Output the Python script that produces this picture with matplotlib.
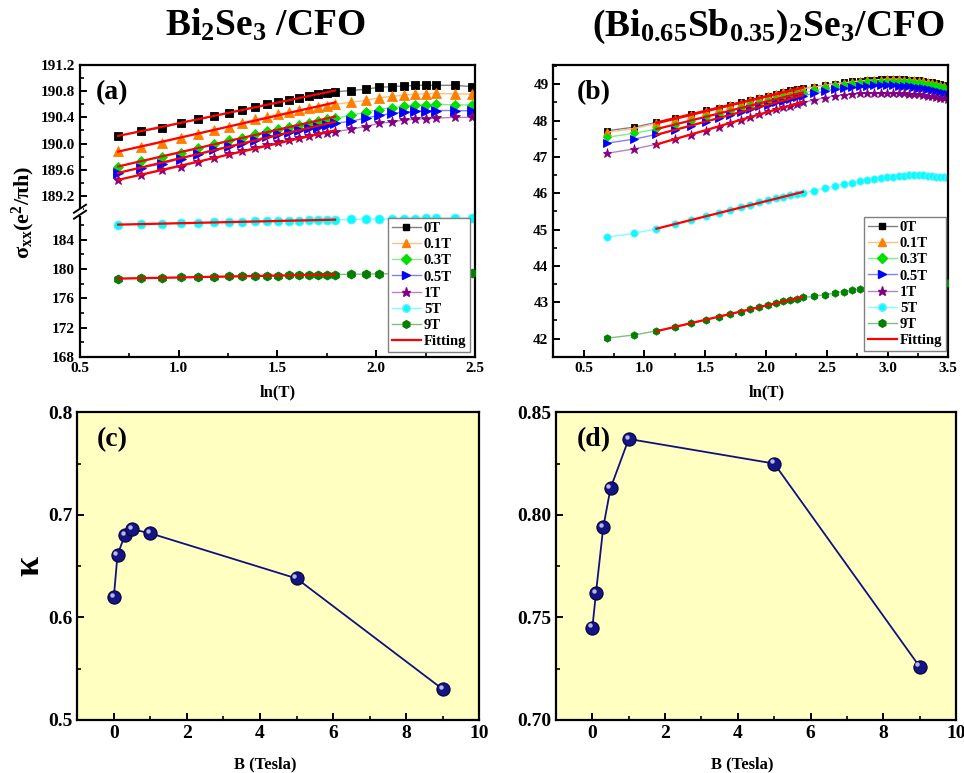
import numpy as np
import matplotlib
matplotlib.use('Agg')
import matplotlib.pyplot as plt
from matplotlib.lines import Line2D
from matplotlib.patches import Rectangle
from matplotlib.ticker import MultipleLocator, FormatStrFormatter
import matplotlib.transforms as mtrans

plt.rcParams.update({
    'font.family': ['Liberation Serif', 'DejaVu Serif'],
    'font.weight': 'bold',
    'mathtext.fontset': 'custom',
    'mathtext.rm': 'Liberation Serif:bold',
    'mathtext.it': 'Liberation Serif:italic:bold',
    'mathtext.bf': 'Liberation Serif:bold',
    'axes.linewidth': 1.6,
    'xtick.direction': 'in',
    'ytick.direction': 'in',
    'xtick.major.width': 1.4,
    'ytick.major.width': 1.4,
    'xtick.minor.width': 1.2,
    'ytick.minor.width': 1.2,
    'xtick.major.size': 5,
    'ytick.major.size': 5,
    'xtick.minor.size': 3,
    'ytick.minor.size': 3,
})

# ---------------- data ----------------
fields = ['0T', '0.1T', '0.3T', '0.5T', '1T', '5T', '9T']

# panel (a): Bi2Se3/CFO, temperatures (K)
T_a = [2.0, 2.25, 2.5, 2.75, 3.0, 3.25, 3.5, 3.75, 4.0, 4.25, 4.5, 4.75, 5.0,
       5.25, 5.5, 5.75, 6.0, 6.5, 7.0, 7.5, 8.0, 8.5, 9.0, 9.5, 10.0, 11.0, 12.0]
sig_a_0T = [190.12, 190.19, 190.24, 190.32, 190.37, 190.42, 190.47, 190.52, 190.56,
            190.60, 190.64, 190.67, 190.70, 190.73, 190.755, 190.775, 190.79, 190.81,
            190.83, 190.86, 190.87, 190.88, 190.89, 190.89, 190.89, 190.89, 190.87]
sig_a_01T = [189.88, 189.95, 190.01, 190.09, 190.15, 190.21, 190.26, 190.32, 190.37,
             190.41, 190.45, 190.48, 190.51, 190.54, 190.56, 190.58, 190.60, 190.63,
             190.66, 190.70, 190.72, 190.74, 190.755, 190.76, 190.765, 190.76, 190.755]
sig_a_03T = [189.65, 189.73, 189.79, 189.86, 189.93, 190.00, 190.05, 190.09, 190.14,
             190.19, 190.22, 190.26, 190.29, 190.32, 190.35, 190.37, 190.39, 190.43,
             190.48, 190.52, 190.55, 190.57, 190.59, 190.59, 190.60, 190.59, 190.59]
sig_a_05T = [189.55, 189.63, 189.69, 189.77, 189.84, 189.91, 189.96, 190.01, 190.06,
             190.11, 190.14, 190.18, 190.21, 190.24, 190.26, 190.28, 190.31, 190.34,
             190.39, 190.43, 190.46, 190.48, 190.495, 190.50, 190.505, 190.505, 190.50]
sig_a_1T = [189.45, 189.52, 189.59, 189.65, 189.72, 189.78, 189.84, 189.89, 189.94,
            189.98, 190.02, 190.05, 190.08, 190.11, 190.14, 190.16, 190.18, 190.22,
            190.26, 190.31, 190.33, 190.36, 190.37, 190.38, 190.39, 190.40, 190.40]
sig_a_5T = [186.04, 186.10, 186.17, 186.23, 186.29, 186.34, 186.39, 186.43, 186.47,
            186.51, 186.54, 186.57, 186.60, 186.63, 186.66, 186.68, 186.70, 186.74,
            186.77, 186.80, 186.83, 186.85, 186.87, 186.89, 186.90, 186.92, 186.94]
sig_a_9T = [178.68, 178.74, 178.79, 178.84, 178.89, 178.93, 178.97, 179.01, 179.04,
            179.07, 179.10, 179.13, 179.15, 179.17, 179.19, 179.21, 179.23, 179.27,
            179.30, 179.33, 179.35, 179.37, 179.39, 179.40, 179.41, 179.43, 179.45]
fit_range_a = (2.0, 6.0)

# panel (b): (Bi0.65Sb0.35)2Se3/CFO
T_b = [2.0, 2.5, 3.0, 3.5, 4.0, 4.5, 5.0, 5.5, 6.0, 6.5, 7.0, 7.5, 8.0, 8.5, 9.0,
       9.5, 10.0, 11, 12, 13, 14, 15, 16, 17, 18, 19, 20, 21, 22, 23, 24, 25, 26,
       27, 28, 29, 30, 31, 32, 33]
sig_b_0T = [47.72, 47.82, 47.95, 48.06, 48.17, 48.28, 48.36, 48.43, 48.50, 48.57,
            48.63, 48.69, 48.74, 48.79, 48.83, 48.86, 48.89, 48.93, 48.98, 49.02,
            49.05, 49.08, 49.10, 49.12, 49.13, 49.14, 49.15, 49.15, 49.15, 49.14,
            49.13, 49.12, 49.11, 49.09, 49.07, 49.05, 49.03, 49.00, 48.97, 48.94]
sig_b_01T = [47.68, 47.78, 47.92, 48.04, 48.15, 48.26, 48.34, 48.42, 48.49, 48.56,
             48.62, 48.68, 48.73, 48.78, 48.82, 48.85, 48.88, 48.92, 48.97, 49.01,
             49.04, 49.07, 49.09, 49.11, 49.12, 49.13, 49.14, 49.14, 49.14, 49.13,
             49.12, 49.11, 49.10, 49.08, 49.06, 49.04, 49.02, 48.99, 48.96, 48.93]
sig_b_03T = [47.54, 47.65, 47.77, 47.89, 48.00, 48.10, 48.19, 48.27, 48.35, 48.42,
             48.48, 48.54, 48.59, 48.64, 48.69, 48.72, 48.76, 48.83, 48.89, 48.94,
             48.98, 49.01, 49.03, 49.05, 49.06, 49.07, 49.07, 49.07, 49.07, 49.06,
             49.05, 49.04, 49.03, 49.01, 48.99, 48.97, 48.95, 48.92, 48.89, 48.86]
sig_b_05T = [47.38, 47.49, 47.62, 47.74, 47.85, 47.97, 48.06, 48.16, 48.24, 48.31,
             48.39, 48.44, 48.50, 48.55, 48.60, 48.64, 48.68, 48.75, 48.81, 48.86,
             48.90, 48.93, 48.95, 48.96, 48.97, 48.97, 48.97, 48.97, 48.96, 48.95,
             48.94, 48.93, 48.91, 48.89, 48.87, 48.85, 48.82, 48.79, 48.76, 48.73]
sig_b_1T = [47.10, 47.22, 47.35, 47.50, 47.61, 47.72, 47.83, 47.93, 48.02, 48.11,
            48.18, 48.25, 48.31, 48.37, 48.41, 48.46, 48.50, 48.57, 48.63, 48.68,
            48.71, 48.73, 48.75, 48.76, 48.77, 48.77, 48.77, 48.77, 48.76, 48.75,
            48.74, 48.73, 48.72, 48.70, 48.69, 48.67, 48.65, 48.63, 48.61, 48.59]
sig_b_5T = [44.79, 44.90, 45.02, 45.15, 45.26, 45.36, 45.45, 45.53, 45.61, 45.68,
            45.75, 45.81, 45.86, 45.91, 45.95, 45.98, 46.00, 46.07, 46.14, 46.20,
            46.25, 46.29, 46.33, 46.36, 46.39, 46.42, 46.44, 46.46, 46.47, 46.48,
            46.49, 46.49, 46.49, 46.49, 46.48, 46.47, 46.46, 46.45, 46.44, 46.43]
sig_b_9T = [42.01, 42.10, 42.21, 42.32, 42.42, 42.51, 42.60, 42.67, 42.74, 42.81,
            42.87, 42.93, 42.98, 43.03, 43.06, 43.10, 43.13, 43.16, 43.21, 43.25,
            43.29, 43.33, 43.36, 43.39, 43.41, 43.43, 43.45, 43.46, 43.47, 43.48,
            43.49, 43.50, 43.51, 43.51, 43.52, 43.52, 43.52, 43.52, 43.52, 43.52]
fit_range_b = (3.0, 10.0)

# panels (c), (d)
B_field = [0, 0.1, 0.3, 0.5, 1, 5, 9]
kappa_c = [0.620, 0.661, 0.680, 0.686, 0.682, 0.638, 0.530]
kappa_d = [0.745, 0.762, 0.794, 0.813, 0.837, 0.825, 0.726]

# ---------------- styles ----------------
markers = ['s', '^', 'D', '>', '*', 'o', 'h']
mcolors = ['#000000', '#FF7F00', '#00E000', '#0000FF', '#800080', '#00FFFF', '#007F00']
mecolors = ['#000000', '#FF7F00', '#00E000', '#0000FF', '#800080', '#7FE8FF', '#007F00']
lcolors = ['#808080', '#FFBF80', '#80F080', '#8080FF', '#C080C0', '#80FFFF', '#80BF80']
msizes = [5.5, 6.5, 5.5, 6.5, 8, 6.5, 6.5]

W, H = 964, 773
fig = plt.figure(figsize=(W / 100, H / 100), dpi=100)


def fx(px):
    return px / W


def fy(py):
    return 1 - py / H


def ax_px(l, t, r, b):
    return fig.add_axes([fx(l), fy(b), (r - l) / W, (b - t) / H])


ax_up = ax_px(80, 65, 475, 211.7)
ax_lo = ax_px(80, 211.7, 475, 357)
ax_b = ax_px(553.3, 65, 948.3, 356.7)
ax_c = ax_px(77.3, 412.3, 479.3, 720)
ax_d = ax_px(556, 412.3, 956, 720)

tick_fs = 11


def style_axis(ax, fs):
    ax.tick_params(which='both', top=False, right=False, labelsize=fs)
    for lab in ax.get_xticklabels() + ax.get_yticklabels():
        lab.set_fontweight('bold')


def draw_series(ax, T, ys, idx, fit_range, scale=1.0):
    x = np.log(np.array(T, dtype=float))
    y = np.array(ys)
    ax.plot(x, y, color=lcolors[idx], lw=1.0, marker=markers[idx], ms=msizes[idx] * scale,
            mfc=mcolors[idx], mec=mecolors[idx], mew=0.6, zorder=2 + idx * 0.1)
    T = np.array(T, dtype=float)
    m = (T >= fit_range[0]) & (T <= fit_range[1])
    p = np.polyfit(x[m], y[m], 1)
    xf = np.array([x[m][0], x[m][-1]])
    ax.plot(xf, np.polyval(p, xf), color='#FF0000', lw=1.6, zorder=5)


# ----- panel (a) -----
series_a = [sig_a_0T, sig_a_01T, sig_a_03T, sig_a_05T, sig_a_1T, sig_a_5T, sig_a_9T]
for i, ys in enumerate(series_a):
    ax = ax_up if i < 5 else ax_lo
    draw_series(ax, T_a, ys, i, fit_range_a)

for ax in (ax_up, ax_lo):
    ax.set_xlim(0.5, 2.5)
ax_up.set_ylim(188.96, 191.2)
ax_lo.set_ylim(168, 187.8)
ax_up.yaxis.set_minor_locator(MultipleLocator(0.2))
ax_up.set_yticks([189.2, 189.6, 190.0, 190.4, 190.8, 191.2])
ax_up.yaxis.set_major_formatter(FormatStrFormatter('%.1f'))
ax_lo.yaxis.set_major_locator(MultipleLocator(4))
ax_lo.yaxis.set_minor_locator(MultipleLocator(2))
ax_lo.xaxis.set_major_locator(MultipleLocator(0.5))
ax_lo.xaxis.set_minor_locator(MultipleLocator(0.25))
ax_lo.xaxis.set_major_formatter(FormatStrFormatter('%.1f'))
ax_up.spines['bottom'].set_visible(False)
ax_lo.spines['top'].set_visible(False)
style_axis(ax_up, tick_fs)
style_axis(ax_lo, tick_fs)
ax_up.tick_params(which='both', bottom=False, labelbottom=False)

# break marks on left spine
bx, by = 80, 211.7
fig.add_artist(Rectangle((fx(bx - 3), fy(by + 4)), 6 / W, 8 / H,
                         transform=fig.transFigure, facecolor='white',
                         edgecolor='none', zorder=10))
for d in (-3.0, 3.0):
    fig.add_artist(Line2D([fx(bx - 6), fx(bx + 6)], [fy(by + d + 4), fy(by + d - 4)],
                          transform=fig.transFigure, color='black', lw=1.4, zorder=11))

# ----- panel (b) -----
series_b = [sig_b_0T, sig_b_01T, sig_b_03T, sig_b_05T, sig_b_1T, sig_b_5T, sig_b_9T]
for i, ys in enumerate(series_b):
    draw_series(ax_b, T_b, ys, i, fit_range_b, scale=0.82)
ax_b.set_xlim(0.25, 3.5)
ax_b.set_ylim(41.5, 49.53)
ax_b.xaxis.set_major_locator(MultipleLocator(0.5))
ax_b.xaxis.set_minor_locator(MultipleLocator(0.25))
ax_b.xaxis.set_major_formatter(FormatStrFormatter('%.1f'))
ax_b.yaxis.set_major_locator(MultipleLocator(1))
ax_b.yaxis.set_minor_locator(MultipleLocator(0.5))
style_axis(ax_b, tick_fs)

# legends
handles = []
for i, f in enumerate(fields):
    handles.append(Line2D([], [], color=lcolors[i], lw=1.0, marker=markers[i],
                          ms=msizes[i] * 0.85, mfc=mcolors[i], mec=mecolors[i], label=f))
handles.append(Line2D([], [], color='#FF0000', lw=1.6, label='Fitting'))
leg_kw = dict(numpoints=1, frameon=True, fancybox=False,
              edgecolor='#808080', framealpha=1, labelspacing=0.2,
              handlelength=2.0, handletextpad=0.2, borderpad=0.25,
              borderaxespad=0.0, prop={'weight': 'bold', 'size': 10.5})
leg_a = ax_lo.legend(handles=handles, loc='lower right',
                     bbox_to_anchor=((470 - 80) / 395, (357 - 351.7) / 145.3), **leg_kw)
leg_a.get_frame().set_linewidth(1.0)
leg_a.set_zorder(20)
leg_b = ax_b.legend(handles=handles, loc='lower right',
                    bbox_to_anchor=((946 - 553.3) / 395, (356.7 - 350.7) / 291.7), **leg_kw)
leg_b.get_frame().set_linewidth(1.0)
leg_b.set_zorder(20)


# ----- panels (c), (d) -----
def draw_kappa(ax, yvals):
    ax.set_facecolor('#FFFFC2')
    ax.plot(B_field, yvals, color='#101080', lw=1.3, marker='o', ms=9.5,
            mfc='#141482', mec='#05053A', mew=0.8, zorder=3)
    off = mtrans.offset_copy(ax.transData, fig=fig, x=-1.6, y=1.6, units='points')
    ax.plot(B_field, yvals, ls='none', marker='o', ms=3.2, mfc='#B8B8F0',
            mec='none', transform=off, zorder=4)
    ax.set_xlim(-1, 10)
    ax.xaxis.set_major_locator(MultipleLocator(2))
    ax.xaxis.set_minor_locator(MultipleLocator(1))
    style_axis(ax, 14)


draw_kappa(ax_c, kappa_c)
ax_c.set_ylim(0.5, 0.8)
ax_c.yaxis.set_major_locator(MultipleLocator(0.1))
ax_c.yaxis.set_minor_locator(MultipleLocator(0.05))
ax_c.yaxis.set_major_formatter(FormatStrFormatter('%.1f'))
draw_kappa(ax_d, kappa_d)
ax_d.set_ylim(0.70, 0.85)
ax_d.yaxis.set_major_locator(MultipleLocator(0.05))
ax_d.yaxis.set_minor_locator(MultipleLocator(0.025))
ax_d.yaxis.set_major_formatter(FormatStrFormatter('%.2f'))
for ax in (ax_c, ax_d):
    for lab in ax.get_xticklabels() + ax.get_yticklabels():
        lab.set_fontweight('bold')

# ----- texts -----
fig.text(fx(265), fy(36), r'Bi$_2$Se$_3$ /CFO', ha='center', va='baseline',
         fontsize=27, fontweight='bold')
fig.text(fx(768), fy(36), r'(Bi$_{0.65}$Sb$_{0.35}$)$_2$Se$_3$/CFO', ha='center',
         va='baseline', fontsize=27, fontweight='bold')

fig.text(fx(96), fy(93), '(a)', ha='left', va='center', fontsize=20, fontweight='bold')
fig.text(fx(577), fy(93), '(b)', ha='left', va='center', fontsize=20, fontweight='bold')
fig.text(fx(97), fy(440), '(c)', ha='left', va='center', fontsize=20, fontweight='bold')
fig.text(fx(577), fy(440), '(d)', ha='left', va='center', fontsize=20, fontweight='bold')

fig.text(fx(23), fy(212), r'σ$_{\mathrm{xx}}$(e$^2$/πh)', ha='center', va='center',
         rotation=90, fontsize=16, fontweight='bold')
fig.text(fx(30), fy(566), 'κ', ha='center', va='center', rotation=90,
         fontsize=26, fontweight='bold')

fig.text(fx(278), fy(392), 'ln(T)', ha='center', va='center', fontsize=12, fontweight='bold')
fig.text(fx(767), fy(392), 'ln(T)', ha='center', va='center', fontsize=12, fontweight='bold')
fig.text(fx(265), fy(764), 'B (Tesla)', ha='center', va='center', fontsize=12, fontweight='bold')
fig.text(fx(742), fy(764), 'B (Tesla)', ha='center', va='center', fontsize=12, fontweight='bold')

fig.savefig('out.png', dpi=100)
